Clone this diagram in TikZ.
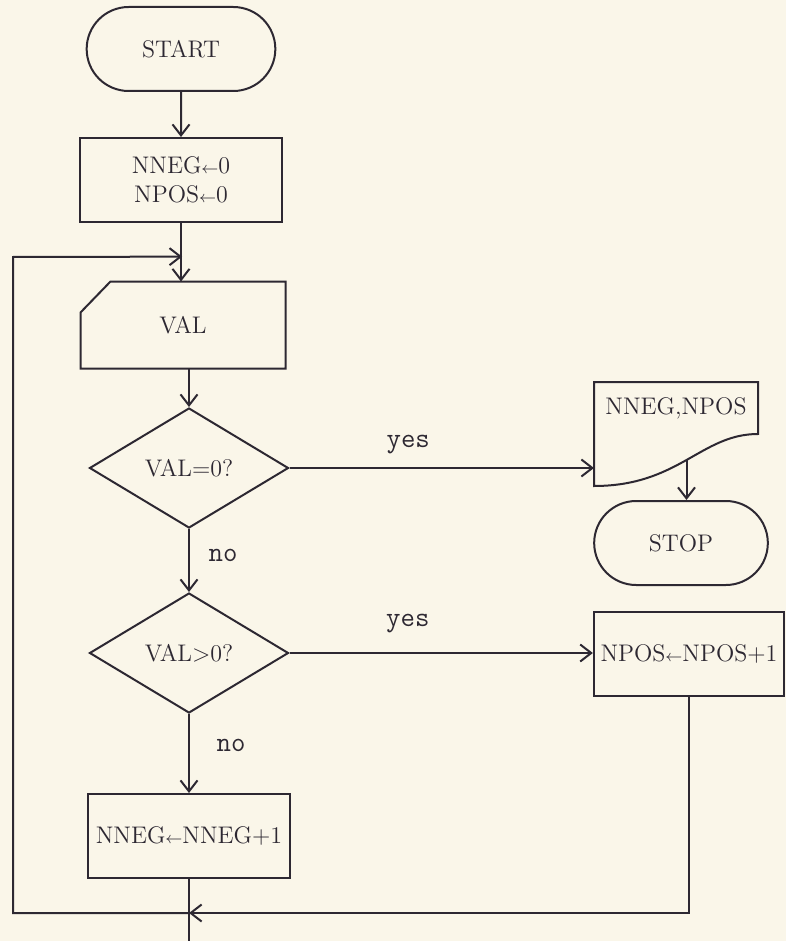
\documentclass[tikz,border=0pt]{standalone}
\usetikzlibrary{shapes.geometric,shapes.misc,arrows.meta,positioning,calc}
\definecolor{paper}{RGB}{250,246,233}
\definecolor{ink}{RGB}{45,40,50}
\newcommand{\asg}{\ensuremath{\scriptstyle\leftarrow}}

\begin{document}
\begin{tikzpicture}[x=0.5pt,y=-0.5pt,line width=1pt,color=ink,
  font=\fontsize{12}{14.5}\selectfont,
  arr/.style={-{Straight Barb[length=5.5pt,width=8.5pt]}},
  term/.style={rounded rectangle,draw,minimum width=101pt,minimum height=42pt},
  proc/.style={rectangle,draw,minimum width=101pt,minimum height=42pt,align=center},
  card/.style={rectangle,minimum width=101.5pt,minimum height=42.5pt},
  decision/.style={diamond,draw,aspect=1.66,inner sep=0pt,minimum width=99.5pt,minimum height=60pt},
  docbox/.style={minimum width=81pt,minimum height=25pt,inner sep=0pt},
  lbl/.style={font=\ttfamily\fontsize{14}{16}\selectfont}]
  \useasboundingbox (0,0) rectangle (786,941);
  \fill[paper] (0,0) rectangle (786,941);

  % main column
  \node[term] (start) at (181,49) {START};
  \node[proc] (init) at (181,180) {NNEG\asg0\\NPOS\asg0};
  \node[card] (val) at (183,325) {VAL};
  \node[decision] (test0) at (189,468) {VAL=0?};
  \node[decision] (test1) at (189,653) {VAL>0?};
  \node[proc] (incneg) at (189,836) {NNEG\asg NNEG+1};

  % right column
  \node[docbox] (out) at (676,408) {NNEG,NPOS};
  \node[term,minimum width=93.5pt] (stop) at (681,543) {STOP};
  \node[proc,minimum width=94pt] (incpos) at (689,654) {NPOS\asg NPOS+1};

  % card outline with cut corner
  \draw ($(val.north west)+(0,31)$) -- ($(val.north west)+(30,0)$) -- (val.north east)
    -- (val.south east) -- (val.south west) -- cycle;

  % document outline with wavy bottom
  \draw (out.south west) -- (out.north west) -- (out.north east) -- (out.south east)
    .. controls +(-57,0) and +(85,0) .. ($(out.south west)+(0,52)$) coordinate[pos=0.5] (outb)
    -- cycle;

  % connectors
  \coordinate (j1) at ($(init.south)!0.575!(val.north)$);
  \draw[arr] (start) -- (init);
  \draw[arr] (init.south) -- (init.south |- val.north);
  \draw[arr] (val.south -| test0.north) -- (test0.north);
  \draw[arr] (test0.east) -- node[lbl,above=3pt,pos=0.39] {yes} (test0.east -| out.west);
  \draw[arr] (outb) -- (outb |- stop.north);
  \draw[arr] (test0) -- node[lbl,right=6pt,pos=0.42] {no} (test1);
  \draw[arr] (test1.east) -- node[lbl,above=6pt,pos=0.39] {yes} (test1.east -| incpos.west);
  \draw[arr] (test1) -- node[lbl,right=10pt,pos=0.4] {no} (incneg);

  % loop back to the input
  \coordinate (j2) at (incneg.south |- 0,913);
  \coordinate (bot) at (incneg.south |- 0,941);
  \coordinate (lb) at (13,913);
  \coordinate (lt) at (13,257);
  \draw (incneg) -- (bot);
  \draw[arr] (incpos.south) |- (j2);
  \draw[arr] (j2) -- (lb) -- (lt) -- (j1);
\end{tikzpicture}
\end{document}
